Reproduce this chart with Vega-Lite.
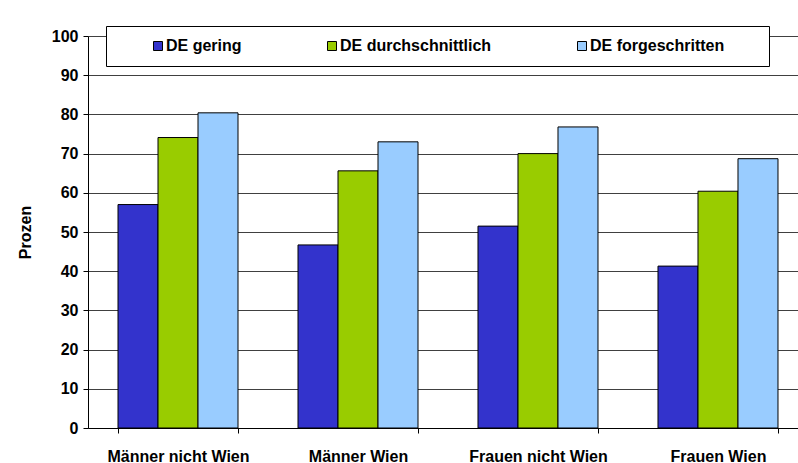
{
  "$schema": "https://vega.github.io/schema/vega-lite/v6.json",
  "width": 720,
  "height": 392,
  "autosize": {"type": "none"},
  "padding": {"left": 88, "top": 36, "right": 0, "bottom": 35},
  "background": "white",
  "config": {"font": "Liberation Sans", "view": {"stroke": null}},
  "data": {
    "values": [
      {"gruppe": "Männer nicht Wien", "kenntnisse": "DE gering", "prozent": 57.0},
      {"gruppe": "Männer nicht Wien", "kenntnisse": "DE durchschnittlich", "prozent": 74.1},
      {"gruppe": "Männer nicht Wien", "kenntnisse": "DE forgeschritten", "prozent": 80.4},
      {"gruppe": "Männer Wien", "kenntnisse": "DE gering", "prozent": 46.7},
      {"gruppe": "Männer Wien", "kenntnisse": "DE durchschnittlich", "prozent": 65.6},
      {"gruppe": "Männer Wien", "kenntnisse": "DE forgeschritten", "prozent": 73.0},
      {"gruppe": "Frauen nicht Wien", "kenntnisse": "DE gering", "prozent": 51.5},
      {"gruppe": "Frauen nicht Wien", "kenntnisse": "DE durchschnittlich", "prozent": 70.0},
      {"gruppe": "Frauen nicht Wien", "kenntnisse": "DE forgeschritten", "prozent": 76.8},
      {"gruppe": "Frauen Wien", "kenntnisse": "DE gering", "prozent": 41.3},
      {"gruppe": "Frauen Wien", "kenntnisse": "DE durchschnittlich", "prozent": 60.4},
      {"gruppe": "Frauen Wien", "kenntnisse": "DE forgeschritten", "prozent": 68.7}
    ]
  },
  "mark": {"type": "bar", "stroke": "black", "strokeWidth": 1},
  "encoding": {
    "x": {
      "field": "gruppe",
      "type": "nominal",
      "sort": ["Männer nicht Wien", "Männer Wien", "Frauen nicht Wien", "Frauen Wien"],
      "scale": {"paddingInner": 0.3333, "paddingOuter": 0.1667},
      "axis": {
        "title": null,
        "labelAngle": 0,
        "tickBand": "extent",
        "tickSize": 5,
        "tickColor": "black",
        "domainColor": "black",
        "labelPadding": 15,
        "labelFontSize": 16,
        "labelFontWeight": "bold",
        "labelColor": "black",
        "grid": false
      }
    },
    "xOffset": {
      "field": "kenntnisse",
      "type": "nominal",
      "sort": ["DE gering", "DE durchschnittlich", "DE forgeschritten"],
      "scale": {"paddingInner": 0, "paddingOuter": 0}
    },
    "y": {
      "field": "prozent",
      "type": "quantitative",
      "scale": {"domain": [0, 100], "nice": false},
      "axis": {
        "title": "Prozen",
        "titleFontSize": 16,
        "titleFontWeight": "bold",
        "titleColor": "black",
        "titlePadding": 18,
        "values": [0, 10, 20, 30, 40, 50, 60, 70, 80, 90, 100],
        "labelFontSize": 16,
        "labelFontWeight": "bold",
        "labelColor": "black",
        "labelPadding": 5,
        "tickSize": 5,
        "tickColor": "black",
        "domainColor": "black",
        "gridColor": "#404040",
        "gridWidth": 1
      }
    },
    "color": {
      "field": "kenntnisse",
      "type": "nominal",
      "sort": ["DE gering", "DE durchschnittlich", "DE forgeschritten"],
      "scale": {
        "domain": ["DE gering", "DE durchschnittlich", "DE forgeschritten"],
        "range": ["#3333cc", "#99cc00", "#99ccff"]
      },
      "legend": {
        "orient": "none",
        "legendX": 18,
        "legendY": -10,
        "direction": "horizontal",
        "title": "\u00a0",
        "titleOrient": "right",
        "titlePadding": 33,
        "titleFontSize": 16,
        "fillColor": "white",
        "strokeColor": "black",
        "padding": 12,
        "columnPadding": 50,
        "labelFontSize": 16,
        "labelFontWeight": "bold",
        "labelColor": "black",
        "labelOffset": 0,
        "labelLimit": 300,
        "symbolOffset": 32,
        "symbolType": "square",
        "symbolSize": 81,
        "symbolStrokeColor": "black",
        "symbolStrokeWidth": 1
      }
    }
  }
}
